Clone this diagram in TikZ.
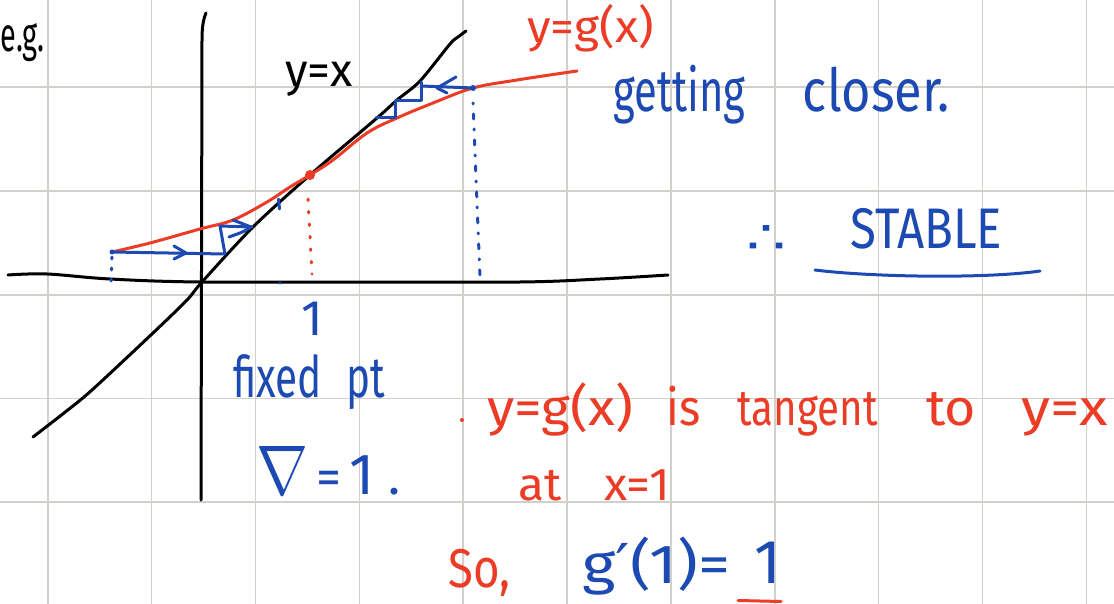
\documentclass[tikz,border=0pt]{standalone}
\usepackage{graphicx}
\usepackage{fontspec}
\setmainfont{Fira Sans}
\newfontfamily\symf{DejaVu Sans}
\definecolor{penred}{RGB}{236,60,38}
\definecolor{penblue}{RGB}{28,74,178}
\definecolor{gridgray}{RGB}{210,208,203}
\newcommand{\hw}[3]{\resizebox{#1}{#2\height}{#3}}
\newcommand{\fs}[1]{\fontsize{#1}{#1}\selectfont}
\tikzset{
  gridline/.style={draw=gridgray, line width=1.6pt},
  pen/.style={line width=3pt, line cap=round, line join=round},
  hand/.style={inner sep=0pt, anchor=base west},
}
\begin{document}
\begin{tikzpicture}[x=1pt,y=-1pt]
\useasboundingbox (0,0) rectangle (1114,604);
\clip (0,0) rectangle (1114,604);
\fill[white] (0,0) rectangle (1114,604);
% grid
\foreach \gx in {0,...,10} \draw[gridline] ({47.8+103.85*\gx},0) -- ({47.8+103.85*\gx},604);
\foreach \gy in {0,...,4} \draw[gridline] (0,{87.3+103.7*\gy}) -- (1114,{87.3+103.7*\gy});

% key points
\coordinate (O) at (202,282);
\coordinate (fp) at (310,175);
\coordinate (start) at (112,252);
\coordinate (far) at (473,88);

% axes
\draw[pen] (206,13) .. controls (203,20) and (202,28) .. (202,40) -- (201,500);
\draw[pen] plot[smooth, tension=0.6] coordinates {(8,275) (47,274) (110,279) (200,282) (360,282) (520,282) (600,279) (668,275)};

% y = x
\draw[pen] plot[smooth, tension=0.5] coordinates {(33,437) (64,413) (92,390) (153,333) (187,300) (O) (253,227) (fp) (377,118) (397,100) (420,81) (450,44) (458,37) (466,31)};

% y = g(x)
\draw[pen, penred] plot[smooth, tension=0.6] coordinates {(start) (150,243) (200,229) (233,220) (267,202) (290,187) (fp) (333,160) (367,133) (397,118) (433,103) (far) (517,80) (577,71)};
\fill[penred] (fp) circle (5);

% dotted drops
\draw[pen, penred, dash pattern=on 1.5pt off 11pt] (308,199) -- (312,274);
\draw[pen, penblue, dash pattern=on 1pt off 10pt on 5pt off 10pt] (473,103) -- (480,277);
\draw[pen, penblue, dash pattern=on 2pt off 9pt] (112,257) -- (111,283);
\draw[pen, penblue] (278.5,199) -- (279.5,209);
\fill[penblue] (280,283) circle (1.6);

% lower cobweb
\fill[penblue] (start) circle (2.5);
\draw[pen, penblue] (start) -- (225,254) -- (220,226) -- (252,227);
\draw[pen, penblue] (174,246) -- (186,253) -- (174,259);
\draw[pen, penblue] (233,220) -- (251,227) .. controls (243,232) .. (229,237);

% upper cobweb
\draw[pen, penblue] (far) -- (421,86);
\draw[pen, penblue] (421,82) -- (421,101) -- (395,101) -- (395,118) -- (376,118);
\draw[pen, penblue] (456,77) -- (437,88) -- (447,93);
\fill[penblue] (far) circle (3);

% texts
\node[inner sep=0pt, anchor=base east, font=\fs{40}] (eg) at (45,52) {\hw{44pt}{1.2}{e.g.}};
\node[hand, text=penred, font=\fs{36}] (lblg) at (527,43) {\hw{127pt}{1.25}{y=g(x)}};
\node[hand, font=\fs{44}] (lblyx) at (285,87) {\hw{67pt}{1.05}{y=x}};
\node[hand, text=penblue, font=\fs{44}] (closer) at (613,112) {\hw{132pt}{1.35}{getting} \hspace{46pt}\hw{147pt}{1.35}{closer.}};
\node[inner sep=0pt, text=penblue, font=\fs{40}] (therefore) at (766,240) {\resizebox*{40pt}{28pt}{\symf ∴}};
\node[hand, text=penblue, font=\fs{52}] (stable) at (850,248) {\hw{152pt}{1.1}{STABLE}};
\draw[pen, penblue] (815,270) .. controls (870,277) and (985,279) .. (1040,271);

\node[inner sep=0pt, anchor=base, text=penblue, font=\fs{50}] (one) at (312,335) {1};
\node[hand, text=penblue, font=\fs{44}] (fixed) at (233,397) {\hw{152pt}{1.3}{fixed\hspace{15pt} pt}};
\node[hand, text=penblue, font=\fs{50}] (nabla) at (256,494) {\resizebox{52pt}{48pt}{$\nabla$}\hspace{8pt}=\hspace{8pt}{\fs{58}1}\hspace{14pt}.};

\fill[penred] (462,420) circle (2);
\node[hand, text=penred, font=\fs{44}] (tangent) at (487,425) {\hw{146pt}{1.15}{y=g(x)} \hspace{22pt}\hw{34pt}{1.15}{is} \hspace{25pt}\hw{140pt}{1.15}{tangent} \hspace{37pt}\hw{50pt}{1.15}{to} \hspace{34pt}\hw{86pt}{1.15}{y=x}};
\node[hand, text=penred, font=\fs{40}] (atx) at (518,500) {\hw{152pt}{1.15}{at\hspace{25pt} x=1}};
\node[hand, text=penred, font=\fs{52}] (so) at (448,587) {\hw{62pt}{1.05}{So,}};
\node[hand, text=penblue, font=\fs{50}] (gprime) at (582,583) {\hw{148pt}{1.1}{g{\symf ′}(1)=}\hspace{24pt}{\fs{62}1}};
\draw[pen, penred] (738,600.5) -- (781,601.5);
\end{tikzpicture}
\end{document}
